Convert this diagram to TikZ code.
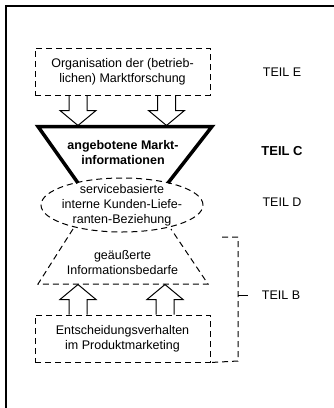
\documentclass[tikz,border=0pt]{standalone}
\usepackage{fontspec}
\setmainfont{Liberation Sans}
\usetikzlibrary{shapes.geometric,calc}

\tikzset{
  dashline/.style={line width=1pt, dash pattern=on 6pt off 4pt},
  dashbox/.style={draw, dashline, minimum width=175pt, inner sep=0pt, align=center},
  txt/.style={align=center, inner sep=0pt, font=\fontsize{12.5}{15}\selectfont},
  teil/.style={inner sep=0pt, font=\fontsize{12.5}{15}\selectfont},
  hollowline/.style={line width=1pt, line join=miter},
  hollow down/.pic={\draw[hollowline] (-9,0) -- (-9,15) -- (-18,15) -- (0,30) -- (18,15) -- (9,15) -- (9,0);},
  hollow up/.pic={\draw[hollowline] (-9,0) -- (-9,-15) -- (-18,-15) -- (0,-30) -- (18,-15) -- (9,-15) -- (9,0);},
}

\begin{document}
\begin{tikzpicture}[x=1pt, y=-1pt]
  \clip (0,0) rectangle (334,408);

  % outer frame, running off the right and lower edge of the page
  \draw[line width=1.4pt] (6,420) -- (6,6) -- (345,6);

  % top box: market research organisation
  \node[dashbox, minimum height=47pt, txt] (orga) at (122.5,71.5)
    {Organisation der (betrieb-\\lichen) Marktforschung};

  % funnel of offered market information
  \coordinate (ftl) at (38,126.5);
  \coordinate (ftr) at (212,126.5);
  \coordinate (fbl) at (78,183);
  \coordinate (fbr) at (168,183);
  \draw[line width=3.5pt, line join=miter] (fbl) -- (ftl) -- (ftr) -- (fbr);
  \node[txt, font=\fontsize{12.5}{15}\selectfont\bfseries] (angebot) at (123,153)
    {angebotene Markt-\\informationen};

  % service based internal customer-supplier relationship
  \node[ellipse, draw, dashline, minimum width=162pt, minimum height=54pt, inner sep=0pt] (kls) at (122,205) {};
  \node[txt] (klstxt) at (kls.center) {servicebasierte\\interne Kunden-Liefe-\\ranten-Beziehung};

  % expressed information needs
  \coordinate (btl) at (73,229);
  \coordinate (btr) at (171,229);
  \coordinate (bbl) at (38,284);
  \coordinate (bbr) at (208,284);
  \draw[dashline] (btl) -- (bbl) -- (bbr) -- (btr);
  \node[txt] (bedarf) at (122.5,262.5) {geäußerte\\Informationsbedarfe};

  % bottom box: decision behaviour
  \node[dashbox, minimum height=47pt, txt] (entsch) at (122.5,338.5)
    {Entscheidungsverhalten\\im Produktmarketing};

  % hollow block arrows
  \pic at ($(orga.south)+(-44.5,0)$) {hollow down};
  \pic at ($(orga.south)+(44,0)$) {hollow down};
  \pic at ($(entsch.north)+(-44.5,0)$) {hollow up};
  \pic at ($(entsch.north)+(42.5,0)$) {hollow up};

  % bracket for part B
  \coordinate (brtop) at (222,237);
  \coordinate (brmid) at (238,295);
  \draw[dashline] (brtop) -- (238,237) -- (238,361) -- (entsch.south east);
  \draw[line width=1pt] (brmid) -- ++(10,0);

  % part labels
  \node[teil] (teilE) at (282,72) {TEIL E};
  \node[teil, font=\fontsize{13}{15}\selectfont\bfseries] (teilC) at (282,151) {TEIL C};
  \node[teil] (teilD) at (282,202) {TEIL D};
  \node[teil] (teilB) at (281,295) {TEIL B};
\end{tikzpicture}
\end{document}
